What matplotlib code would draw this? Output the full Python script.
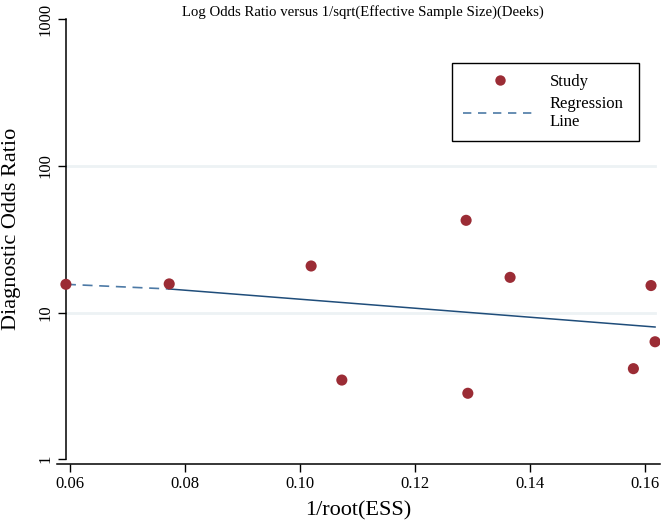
import matplotlib
matplotlib.use("Agg")
import matplotlib.pyplot as plt
from matplotlib.lines import Line2D
import numpy as np

# Data
inv_root_ess = [0.05925, 0.07722, 0.10191, 0.10725, 0.12887, 0.12917, 0.13652, 0.16104, 0.16174, 0.15797]
dor = [15.6, 15.7, 20.8, 3.47, 42.6, 2.82, 17.4, 15.3, 6.33, 4.15]

# Regression line values
reg_x = [0.05925, 0.07722, 0.16174]
reg_dor = [15.6, 14.5, 7.98]

y_ticks = [1, 10, 100, 1000]
y_ticklabels = ["1", "10", "100", "1000"]
x_ticks = [0.06, 0.08, 0.10, 0.12, 0.14, 0.16]
x_ticklabels = ["0.06", "0.08", "0.10", "0.12", "0.14", "0.16"]

plt.rcParams['font.family'] = ['Liberation Serif', 'DejaVu Serif']

fig = plt.figure(figsize=(6.62, 5.28), dpi=100)
ax = fig.add_axes([57/662, (528-464)/528, 603/662, (464-19.3)/528])

ax.set_yscale('log')
ax.set_xlim(0.0577, 0.1626)
ax.set_ylim(0.929, 1000)

# gridlines at 10 and 100
for g in [10, 100]:
    ax.plot([0.0593, 0.1617], [g, g], color='#edf2f4', lw=2.0, zorder=1)

# regression line: dashed part then solid part
ax.plot(reg_x[:2], reg_dor[:2], color='#4d7aa6', lw=1.2, ls=(0, (6, 4)), zorder=2)
ax.plot(reg_x[1:], reg_dor[1:], color='#1f4d7a', lw=1.1, zorder=2)

ax.scatter(inv_root_ess, dor, s=64, color='#9b2c35', edgecolors='none', zorder=3)

ax.spines['top'].set_visible(False)
ax.spines['right'].set_visible(False)
ax.spines['left'].set_position(('data', 0.0593))
ax.spines['left'].set_bounds(1, 1000)
ax.spines['left'].set_linewidth(1.1)
ax.spines['bottom'].set_linewidth(1.1)

ax.set_yticks(y_ticks)
ax.set_yticklabels(y_ticklabels, rotation=90, va='center', fontsize=12)
ax.yaxis.set_minor_locator(matplotlib.ticker.NullLocator())
ax.set_xticks(x_ticks)
ax.set_xticklabels(x_ticklabels, fontsize=12)
ax.tick_params(axis='both', direction='out', length=6, width=1.0, colors='black', pad=3)

ax.set_xlabel("1/root(ESS)", fontsize=16, labelpad=6)
fig.text(12/662, 1 - 229/528, "Diagnostic Odds Ratio", rotation=90, fontsize=16,
         ha='center', va='center')
fig.text(363/662, 1 - 12/528, "Log Odds Ratio versus 1/sqrt(Effective Sample Size)(Deeks)",
         fontsize=10.6, ha='center', va='center')

handles = [
    Line2D([0], [0], marker='o', ls='none', color='#9b2c35', markersize=7.5, markeredgewidth=0),
    Line2D([0], [0], color='#4d7aa6', lw=1.2, ls=(0, (5, 4))),
]
ax_h = 444.7
bx0 = (452-57)/603
bw = (639-452)/603
by1 = (464-63)/ax_h
bh = (137-63)/ax_h
leg = ax.legend(handles, ["Study", "Regression\nLine"], loc='upper left',
                bbox_to_anchor=(bx0, by1 - bh, bw, bh), mode='expand', fontsize=12,
                frameon=True, fancybox=False, edgecolor='black', framealpha=1,
                handlelength=4.4, borderpad=0.65, labelspacing=0.35, handletextpad=0.8,
                borderaxespad=0)
leg.get_frame().set_linewidth(1.0)

fig.savefig("out.png", dpi=100)
